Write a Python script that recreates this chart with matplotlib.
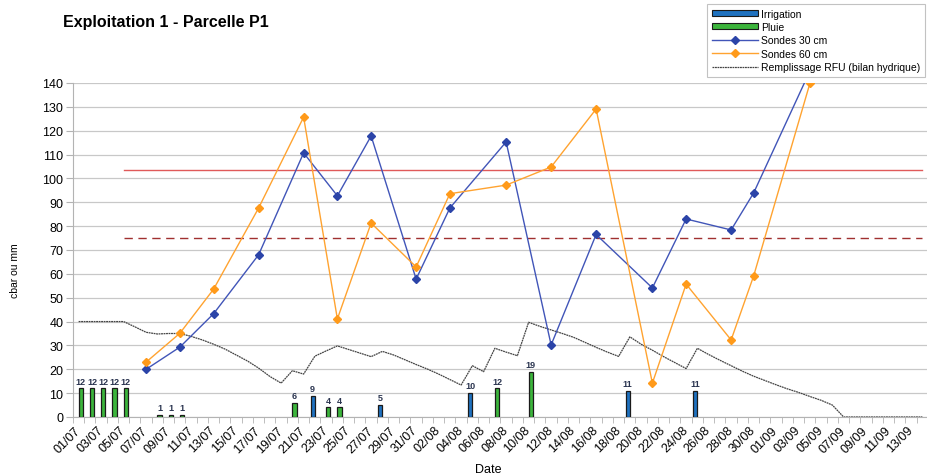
import matplotlib
matplotlib.use('Agg')
import matplotlib.pyplot as plt
from matplotlib.patches import Patch
from matplotlib.lines import Line2D
import numpy as np
import pandas as pd

plt.rcParams['font.family'] = ['Liberation Sans', 'DejaVu Sans']

# Daily categories 01/07 -> 14/09
jours = list(pd.date_range('2021-07-01', '2021-09-14').strftime('%d/%m'))

# Irrigation and rain (mm)
irrigation_dates = ['22/07', '28/07', '05/08', '19/08', '25/08']
irrigation_mm = [9, 5, 10, 11, 11]
pluie_dates = ['01/07', '02/07', '03/07', '04/07', '05/07', '08/07', '09/07', '10/07',
               '20/07', '23/07', '24/07', '07/08', '10/08']
pluie_mm = [12, 12, 12, 12, 12, 1, 1, 1, 6, 4, 4, 12, 19]

# Tensiometer readings (cbar)
sondes_dates = ['07/07', '10/07', '13/07', '17/07', '21/07', '24/07', '27/07', '31/07',
                '03/08', '08/08', '12/08', '16/08', '21/08', '24/08', '28/08', '30/08', '04/09']
sondes_30 = [20, 29.3, 43.3, 68, 110.7, 92.7, 117.8, 57.8, 87.6, 115.3, 30.2, 76.5,
             54.1, 83, 78.4, 93.9, 145]
sondes_60 = [23, 35.1, 53.6, 87.6, 125.7, 41.1, 81.3, 62.9, 93.6, 97.2, 104.8, 129.1,
             14.2, 55.7, 32.3, 59.1, 139.8]

# Water balance (RFU fill, mm), one value per day
rfu = [40, 40, 40, 40, 40, 37.8, 35.5, 34.8, 35, 35,
       33.8, 32.3, 30.5, 28.5, 26, 23.5, 20.5, 17, 14.2, 19.4,
       18, 25.5, 27.7, 29.8, 28.3, 26.8, 25.3, 27.5, 26, 24,
       22, 20.1, 18, 15.7, 13.4, 21.5, 19, 28.8, 27.2, 25.7,
       39.7, 38, 36.5, 35, 33.4, 31.3, 29.2, 27.2, 25.4, 33.6,
       30.5, 28, 25.3, 22.8, 20.3, 28.8, 26.2, 23.8, 21.5, 19.2,
       17.1, 15.3, 13.5, 11.8, 10.3, 8.6, 7, 5, 0, 0,
       0, 0, 0, 0, 0, 0]

# Thresholds (start on 05/07)
seuil_debut = '05/07'
seuil_haut = 103.5
seuil_bas = 75

x = np.arange(len(jours))
idx = {d: i for i, d in enumerate(jours)}

fig = plt.figure(figsize=(9.28, 4.77), dpi=100)
ax = fig.add_axes([73 / 928, 59 / 477, 855 / 928, 334 / 477])

ax.set_ylim(0, 140)
ax.set_xlim(-0.5, 74.96)
ax.set_yticks(range(0, 141, 10))
ax.grid(axis='y', color='#c8c8c8', linewidth=0.9)
ax.set_axisbelow(True)
for s in ['top', 'right']:
    ax.spines[s].set_visible(False)
for s in ['left', 'bottom']:
    ax.spines[s].set_color('#b3b3b3')

# bars
w = 0.38
xi = np.array([idx[d] for d in irrigation_dates])
xp = np.array([idx[d] for d in pluie_dates])
ax.bar(xi - w / 2, irrigation_mm, width=w, color='#1f72c0', edgecolor='#1a1a1a', linewidth=0.9, zorder=3)
ax.bar(xp + w / 2, pluie_mm, width=w, color='#3cb53c', edgecolor='#1a1a1a', linewidth=0.9, zorder=3)
for xx, v in zip(xi - w / 2, irrigation_mm):
    ax.text(xx, v + 1.2, str(v), ha='center', va='bottom', fontsize=6.5, fontweight='bold', color='#2b3550')
for xx, v in zip(xp + w / 2, pluie_mm):
    ax.text(xx, v + 1.2, str(v), ha='center', va='bottom', fontsize=6.5, fontweight='bold', color='#2b3550')

# thresholds
xs = x[idx[seuil_debut]:]
ax.plot(xs, [seuil_haut] * len(xs), color='#e05a5a', linewidth=1, zorder=2)
ax.plot(xs, [seuil_bas] * len(xs), color='#a03030', linewidth=1, dashes=(6, 4), zorder=2)

# water balance
ax.plot(x, rfu, color='#444444', linewidth=0.9, linestyle=(0, (1.5, 0.5)), zorder=4)

# probes
xsd = [idx[d] for d in sondes_dates]
ax.plot(xsd, sondes_30, color='#4155b8', linewidth=1, marker='D', markersize=4,
        markerfacecolor='#2b44a8', markeredgecolor='#2b44a8', zorder=5)
ax.plot(xsd, sondes_60, color='#ffa330', linewidth=1, marker='D', markersize=4,
        markerfacecolor='#ff9a1a', markeredgecolor='#ff9a1a', zorder=5)

# ticks
ax.set_xticks(x[::2])
ax.set_xticklabels(jours[::2], rotation=45, ha='right', va='center', rotation_mode='anchor', fontsize=9)
ax.set_xticks(np.arange(-0.5, len(jours), 1), minor=True)
ax.tick_params(axis='x', which='major', length=0, pad=8)
ax.tick_params(axis='x', which='minor', length=4, color='#b3b3b3')
ax.tick_params(axis='y', length=5, color='#b3b3b3', labelsize=9, pad=2)

ax.set_ylabel('cbar ou mm', fontsize=7.5)
ax.yaxis.set_label_coords(-0.062, 0.44)
ax.set_xlabel('Date', fontsize=9, va='center')
ax.xaxis.set_label_coords((488 - 73) / 855, -0.156)

fig.text(63 / 928, 1 - 23 / 477, 'Exploitation 1 - Parcelle P1', fontsize=11.5, fontweight='bold', va='center')

handles = [
    Patch(facecolor='#1f72c0', edgecolor='#1a1a1a', linewidth=0.8),
    Patch(facecolor='#3cb53c', edgecolor='#1a1a1a', linewidth=0.8),
    Line2D([], [], color='#4155b8', linewidth=1, marker='D', markersize=4,
           markerfacecolor='#2b44a8', markeredgecolor='#2b44a8'),
    Line2D([], [], color='#ffa330', linewidth=1, marker='D', markersize=4,
           markerfacecolor='#ff9a1a', markeredgecolor='#ff9a1a'),
    Line2D([], [], color='#444444', linewidth=0.9, linestyle=(0, (1.5, 0.5))),
]
labels = ['Irrigation', 'Pluie', 'Sondes 30 cm', 'Sondes 60 cm', 'Remplissage RFU (bilan hydrique)']
leg = fig.legend(handles, labels, loc='upper left', bbox_to_anchor=(707 / 928, 1 - 5 / 477),
                 fontsize=7.5, frameon=True, fancybox=False, handlelength=4.4, handleheight=0.5,
                 labelspacing=0.32, handletextpad=0.3, borderpad=0.45, borderaxespad=0)
leg.get_frame().set_edgecolor('#b3b3b3')
leg.get_frame().set_linewidth(0.8)

plt.savefig('out.png', dpi=100)
